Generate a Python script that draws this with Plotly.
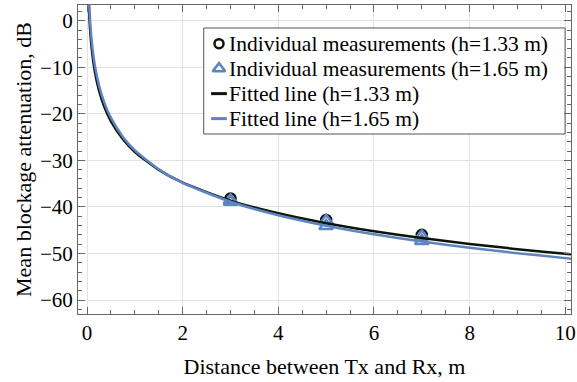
import plotly.graph_objects as go

# Measurements (distance in m, attenuation in dB)
meas_d_133 = [3, 5, 7]
meas_v_133 = [-38.2, -42.8, -46.0]

meas_d_165 = [3, 3, 5, 5, 7, 7]
meas_v_165 = [-38.6, -38.9, -43.0, -44.1, -46.3, -47.3]

# Fitted lines
fit_d = [0.035, 0.04, 0.05, 0.07, 0.1, 0.16, 0.25, 0.36, 0.5, 0.75, 1.0,
         1.5, 2.0, 3.0, 4.0, 5.0, 6.0, 7.0, 8.0, 9.0, 10.0, 10.2]
fit_v_133 = [3.65, 2.38, 0.26, -2.94, -6.33, -10.79, -15.03, -18.49, -21.62,
             -25.47, -28.2, -32.05, -34.79, -38.64, -41.37, -43.49, -45.22,
             -46.69, -47.95, -49.07, -50.07, -50.26]
fit_v_165 = [5.84, 4.49, 2.25, -1.13, -4.72, -9.44, -13.93, -17.59, -20.89,
             -24.97, -27.86, -31.93, -34.83, -38.90, -41.79, -44.03, -45.87,
             -47.42, -48.76, -49.94, -51.00, -51.20]

x_ticks = [0, 2, 4, 6, 8, 10]
y_ticks = [0, -10, -20, -30, -40, -50, -60]

legend_labels = ["Individual measurements (h=1.33 m)",
                 "Individual measurements (h=1.65 m)",
                 "Fitted line (h=1.33 m)",
                 "Fitted line (h=1.65 m)"]

BLACK = "#0c1608"
BLUE = "#5f84c2"
FONT = "Liberation Serif, Times New Roman, serif"

fig = go.Figure()
fig.add_trace(go.Scatter(
    x=meas_d_133, y=meas_v_133, mode="markers", name=legend_labels[0],
    marker=dict(symbol="circle-open", size=10, color=BLACK,
                line=dict(width=2.5, color=BLACK)),
))
fig.add_trace(go.Scatter(
    x=meas_d_165, y=meas_v_165, mode="markers", name=legend_labels[1],
    marker=dict(symbol="triangle-up-open", size=12, color=BLUE,
                line=dict(width=2.5, color=BLUE)),
))
fig.add_trace(go.Scatter(
    x=fit_d, y=fit_v_133, mode="lines", name=legend_labels[2],
    line=dict(color=BLACK, width=2.5, shape="spline", smoothing=0.6),
))
fig.add_trace(go.Scatter(
    x=fit_d, y=fit_v_165, mode="lines", name=legend_labels[3],
    line=dict(color=BLUE, width=2.5, shape="spline", smoothing=0.6),
))

# ---- custom legend drawn on an overlay axis spanning the plot area (0..1)
LX0, LX1, LY0, LY1 = 0.255, 0.988, 0.5825, 0.9256
ROWS = [0.8750, 0.7941, 0.7132, 0.6323]
SYM_X = 0.286
SEG = (0.270, 0.302)
TXT_X = 0.305
leg = dict(xaxis="x2", yaxis="y2", showlegend=False, hoverinfo="skip",
           cliponaxis=False)
fig.add_trace(go.Scatter(
    x=[LX0, LX1, LX1, LX0, LX0], y=[LY0, LY0, LY1, LY1, LY0],
    mode="lines", fill="toself", fillcolor="white",
    line=dict(color="#555555", width=1), **leg))
fig.add_trace(go.Scatter(
    x=[SYM_X], y=[ROWS[0]], mode="markers",
    marker=dict(symbol="circle-open", size=9, color=BLACK,
                line=dict(width=2.5, color=BLACK)), **leg))
fig.add_trace(go.Scatter(
    x=[SYM_X], y=[ROWS[1]], mode="markers",
    marker=dict(symbol="triangle-up-open", size=11, color=BLUE,
                line=dict(width=2.5, color=BLUE)), **leg))
fig.add_trace(go.Scatter(
    x=list(SEG), y=[ROWS[2], ROWS[2]], mode="lines",
    line=dict(color=BLACK, width=3), **leg))
fig.add_trace(go.Scatter(
    x=list(SEG), y=[ROWS[3], ROWS[3]], mode="lines",
    line=dict(color=BLUE, width=3), **leg))
for lab, ry in zip(legend_labels, ROWS):
    fig.add_annotation(
        xref="x2", yref="y2", x=TXT_X, y=ry, text=lab, showarrow=False,
        xanchor="left", yanchor="middle", borderpad=0,
        font=dict(family=FONT, size=21.5, color="black"))

axis_common = dict(
    showline=True, linecolor="#666666", linewidth=1, mirror="ticks",
    ticks="inside", ticklen=7, tickwidth=1, tickcolor="#666666",
    showgrid=True, gridcolor="#e2e2e2", gridwidth=1.2, zeroline=False,
    tickfont=dict(family=FONT, size=21, color="black"),
)

fig.update_xaxes(
    range=[-0.19, 10.12], tickvals=x_ticks,
    ticktext=[str(v) for v in x_ticks], ticklabeloverflow="allow",
    minor=dict(dtick=0.5, ticks="inside", ticklen=4, tickcolor="#666666",
               showgrid=False),
    title=dict(text="Distance between Tx and Rx, m", standoff=14,
               font=dict(family=FONT, size=22, color="black")),
    **axis_common,
)
fig.update_yaxes(
    range=[-63.0, 3.37], tickvals=y_ticks,
    ticktext=[("\u2212" + str(-v)) if v < 0 else str(v) for v in y_ticks],
    minor=dict(dtick=2, ticks="inside", ticklen=4, tickcolor="#666666",
               showgrid=False),
    title=dict(text="Mean blockage attenuation, dB", standoff=2,
               font=dict(family=FONT, size=22, color="black")),
    **axis_common,
)

fig.update_layout(
    width=577, height=382,
    margin=dict(l=78, r=1, t=5, b=68),
    plot_bgcolor="white", paper_bgcolor="white",
    showlegend=False,
    xaxis2=dict(overlaying="x", range=[0, 1], visible=False, fixedrange=True),
    yaxis2=dict(overlaying="y", range=[0, 1], visible=False, fixedrange=True),
)

fig.write_html("out.html")
